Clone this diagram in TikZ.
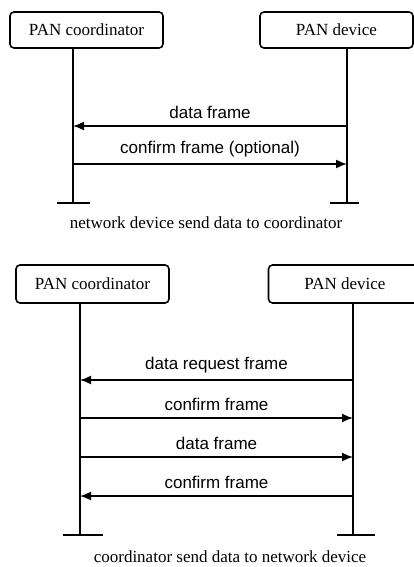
\documentclass[tikz,border=0pt]{standalone}
\usepackage{fontspec}
\setmainfont{Liberation Serif}
\setsansfont{Liberation Sans}
\usetikzlibrary{arrows.meta,positioning}

\begin{document}
\begin{tikzpicture}[x=1pt,y=-1pt,>={Latex[length=11pt,width=9pt]},line width=1.6pt,
                    box node/.style={draw,rounded corners=4pt,minimum width=153pt,minimum height=36pt,
                                     inner sep=0pt,font=\fontsize{17}{20}\selectfont},
                    msg/.style={->,shorten >=0pt},
                    msg label/.style={above=3pt,midway,font=\sffamily\fontsize{17}{20}\selectfont},
                    caption node/.style={font=\fontsize{17}{20}\selectfont}]

  \useasboundingbox (0,0) rectangle (414,567);

  \node[box node] (coord1) at (86.5,30) {PAN coordinator};
  \node[box node] (dev1) at (336.5,30) {PAN device};

  \coordinate (c1end) at (73,203);
  \coordinate (d1end) at (347,203);
  \draw (coord1.south -| c1end) -- (c1end);
  \draw (dev1.south -| d1end) -- (d1end);
  \draw ([xshift=-16pt]c1end) -- ([xshift=17pt]c1end);
  \draw ([xshift=-17pt]d1end) -- ([xshift=12pt]d1end);

  \coordinate (c1a) at (73,126);
  \coordinate (d1a) at (347,126);
  \coordinate (c1b) at (73,164);
  \coordinate (d1b) at (347,164);

  \path[every node/.style={msg label}]
    (d1a) edge[msg] node {data frame} (c1a)
    (c1b) edge[msg] node {confirm frame (optional)} (d1b);

  \node[caption node] (cap1) at (206,223) {network device send data to coordinator};

  \node[box node,minimum height=38pt] (coord2) at (92.5,284) {PAN coordinator};
  \node[box node,minimum height=38pt] (dev2) at (345,284) {PAN device};

  \coordinate (c2end) at (80,535);
  \coordinate (d2end) at (353,535);
  \draw (coord2.south -| c2end) -- (c2end);
  \draw (dev2.south -| d2end) -- (d2end);
  \draw ([xshift=-17pt]c2end) -- ([xshift=23pt]c2end);
  \draw ([xshift=-16pt]d2end) -- ([xshift=22pt]d2end);

  \coordinate (c2a) at (80,380);
  \coordinate (d2a) at (353,380);
  \coordinate (c2b) at (80,418);
  \coordinate (d2b) at (353,418);
  \coordinate (c2c) at (80,457);
  \coordinate (d2c) at (353,457);
  \coordinate (c2d) at (80,496);
  \coordinate (d2d) at (353,496);

  \path[every node/.style={msg label}]
    (d2a) edge[msg] node {data request frame} (c2a)
    (c2b) edge[msg] node {confirm frame} (d2b)
    (c2c) edge[msg] node {data frame} (d2c)
    (d2d) edge[msg] node {confirm frame} (c2d);

  \node[caption node] (cap2) at (230,557) {coordinator send data to network device};

\end{tikzpicture}
\end{document}
